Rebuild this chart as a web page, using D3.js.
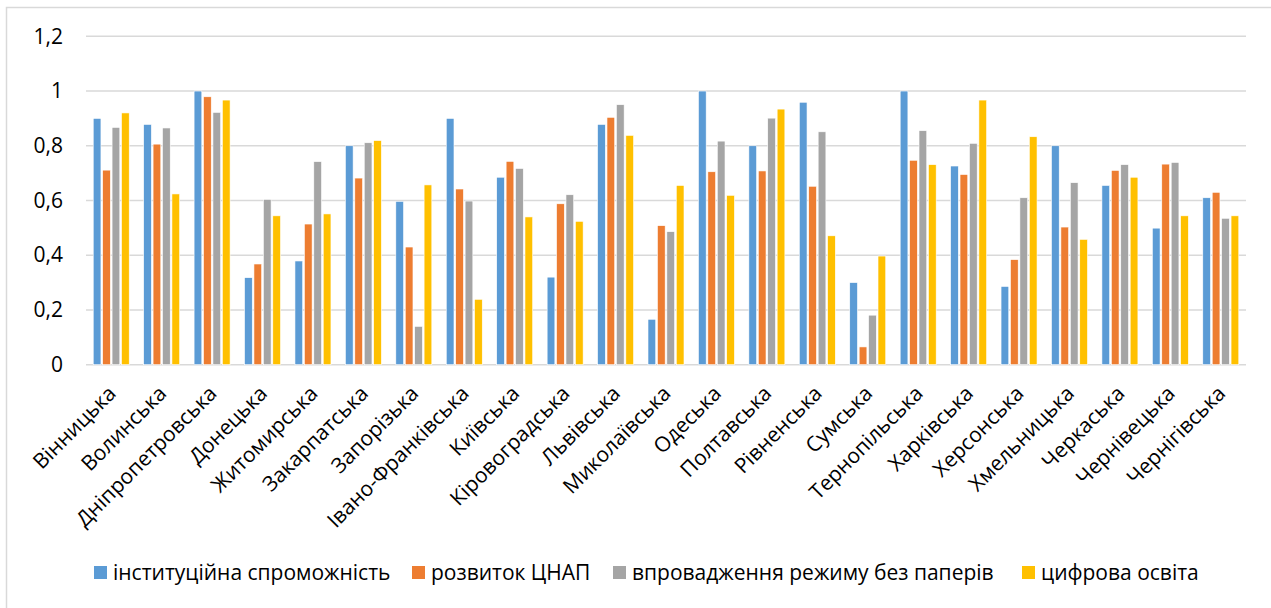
<!DOCTYPE html>
<html><head><meta charset="utf-8">
<script src="https://cdn.jsdelivr.net/npm/d3@7"></script>
<style>body{margin:0;background:#fff}svg{display:block}text{font-family:"Open Sans",sans-serif;fill:#000}</style>
</head><body><svg id="c" width="1271" height="608"></svg>
<script>
const categories = ["Вінницька","Волинська","Дніпропетровська","Донецька","Житомирська","Закарпатська","Запорізька","Івано-Франківська","Київська","Кіровоградська","Львівська","Миколаївська","Одеська","Полтавська","Рівненська","Сумська","Тернопільська","Харківська","Херсонська","Хмельницька","Черкаська","Чернівецька","Чернігівська"];
const seriesNames = ["інституційна спроможність","розвиток ЦНАП","впровадження режиму без паперів","цифрова освіта"];
const institutional = [0.90,0.878,1.0,0.318,0.379,0.80,0.597,0.90,0.685,0.32,0.878,0.166,1.0,0.80,0.959,0.30,1.0,0.726,0.286,0.80,0.655,0.499,0.61];
const cnap = [0.711,0.806,0.979,0.368,0.514,0.682,0.43,0.642,0.743,0.588,0.904,0.508,0.705,0.708,0.652,0.065,0.747,0.695,0.384,0.503,0.71,0.733,0.63];
const paperless = [0.867,0.865,0.922,0.604,0.742,0.811,0.14,0.598,0.717,0.621,0.95,0.486,0.817,0.901,0.851,0.181,0.855,0.809,0.61,0.665,0.731,0.739,0.535];
const digitalEdu = [0.92,0.624,0.967,0.544,0.551,0.819,0.657,0.239,0.54,0.524,0.838,0.655,0.619,0.934,0.471,0.397,0.731,0.967,0.833,0.458,0.685,0.544,0.544];
const yTicks = [0,0.2,0.4,0.6,0.8,1,1.2];
const colors = ["#5B9BD5","#ED7D31","#A5A5A5","#FFC000"];
const series = [institutional, cnap, paperless, digitalEdu];

const svg = d3.select("#c");
svg.append("rect").attr("x",6.5).attr("y",7.5).attr("width",1300).attr("height",700)
  .attr("fill","#fff").attr("stroke","#d9d9d9").attr("stroke-width",1.5);

const pLeft=86, pRight=1246, pTop=36.3, pBottom=364.7;
const y = d3.scaleLinear().domain([0,1.2]).range([pBottom,pTop]);
const x = d3.scaleBand().domain(categories).range([pLeft,pRight]);
const xs = d3.scaleBand().domain(d3.range(4)).range([0,36]).paddingInner(0.18);

const grid = svg.append("g");
grid.selectAll("line").data(yTicks).join("line")
  .attr("x1",pLeft).attr("x2",pRight).attr("y1",d=>y(d)).attr("y2",d=>y(d))
  .attr("stroke","#d9d9d9").attr("stroke-width",1.5);

const yAxis = d3.axisLeft(y).tickValues(yTicks).tickSize(0).tickPadding(0)
  .tickFormat(d=>String(d).replace(".",","));
const ya = svg.append("g").attr("transform",`translate(63,0)`).call(yAxis);
ya.select(".domain").remove();
ya.selectAll("text").attr("font-size",21).style("font-family","'Open Sans',sans-serif").attr("fill","#000");

const groups = svg.append("g").selectAll("g").data(categories).join("g")
  .attr("transform",d=>`translate(${x(d)+x.bandwidth()/2-18},0)`);
series.forEach((s,si)=>{
  groups.append("rect")
    .attr("x",xs(si)).attr("width",xs.bandwidth())
    .attr("y",(d,i)=>y(s[i])).attr("height",(d,i)=>y(0)-y(s[i]))
    .attr("fill",colors[si]).attr("stroke","#fff").attr("stroke-width",0.6);
});

const xa = svg.append("g").attr("transform",`translate(0,${pBottom})`)
  .call(d3.axisBottom(x).tickSize(0).tickPadding(0));
xa.select(".domain").remove();
xa.selectAll("text").attr("font-size",21).style("font-family","'Open Sans',sans-serif").attr("fill","#000")
  .attr("text-anchor","end").attr("dy",0).attr("y",0)
  .attr("transform","translate(6,30) rotate(-45)");

const legendX = [94,412,613,1022];
const lg = svg.append("g").selectAll("g").data(seriesNames).join("g")
  .attr("transform",(d,i)=>`translate(${legendX[i]},573)`);
lg.append("rect").attr("x",0).attr("y",-7).attr("width",13).attr("height",13).attr("fill",(d,i)=>colors[i]);
lg.append("text").attr("x",19).attr("y",0).attr("dy","0.35em").attr("font-size",21).text(d=>d);
</script></body></html>
